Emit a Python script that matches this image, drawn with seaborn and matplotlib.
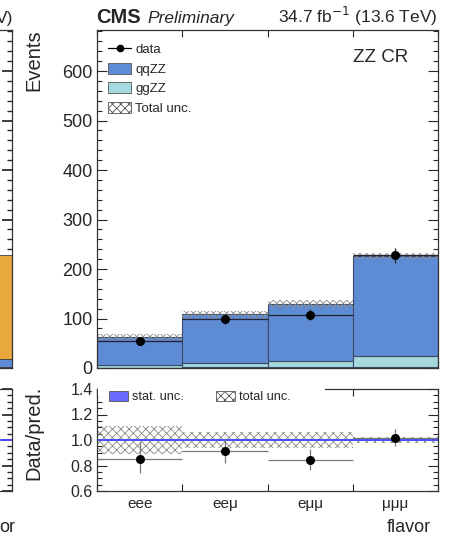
import numpy as np
import pandas as pd
import matplotlib
matplotlib.use("Agg")
import matplotlib.pyplot as plt
import seaborn as sns
from matplotlib.patches import Patch, Rectangle
from matplotlib.lines import Line2D
from matplotlib.ticker import MultipleLocator, FixedLocator

# ---------------- data ----------------
flavors = ["eee", "eeμ", "eμμ", "μμμ"]
qqzz = [57.0, 98.0, 115.0, 201.0]
ggzz = [4.5, 9.0, 12.0, 22.0]
other = [1.0, 1.5, 2.0, 3.0]
data = [54.0, 99.0, 108.0, 228.0]
data_err = [7.4, 10.0, 10.4, 15.1]
tot_unc_rel = [0.11, 0.065, 0.065, 0.024]
stat_unc_rel = [0.004, 0.004, 0.004, 0.004]
ratio = [0.853, 0.914, 0.843, 1.018]
ratio_err_up = [0.134, 0.099, 0.084, 0.066]
ratio_err_dn = [0.110, 0.092, 0.078, 0.065]
# neighbouring panel sliver (left edge)
left_procs = ["orange", "blue", "dark"]
left_vals = [210.0, 15.0, 3.0]

c_qq = "#5e8cd4"
c_gg = "#a6d9dc"
c_oth = "#3a0d1a"
c_or = "#e9a83d"

sns.set_theme(style="ticks")
plt.rcParams["font.family"] = ["Liberation Sans", "DejaVu Sans"]
plt.rcParams["hatch.color"] = "#8a8a8a"
plt.rcParams["hatch.linewidth"] = 0.6

W, H = 457, 538
fig = plt.figure(figsize=(W / 100, H / 100), dpi=100)

def fx(px):
    return px / W

def fy(py):
    return 1 - py / H

L, R = 97, 438
T1, B1 = 30, 368
T2, B2 = 389, 491
ax = fig.add_axes([fx(L), fy(B1), fx(R - L), fy(T1) - fy(B1)])
axr = fig.add_axes([fx(L), fy(B2), fx(R - L), fy(T2) - fy(B2)])

edges = [0, 1, 2, 3, 4]
centers = np.array([0.5, 1.5, 2.5, 3.5])
pred = np.array(qqzz) + np.array(ggzz) + np.array(other)

df = pd.DataFrame({
    "bin": np.tile(centers, 3),
    "w": qqzz + ggzz + other,
    "proc": ["qqZZ"] * 4 + ["ggZZ"] * 4 + ["other"] * 4,
})
sns.histplot(data=df, x="bin", weights="w", hue="proc",
             hue_order=["qqZZ", "ggZZ", "other"], multiple="stack",
             bins=edges, palette={"qqZZ": c_qq, "ggZZ": c_gg, "other": c_oth},
             alpha=1, edgecolor="#3c4a66", linewidth=0.8, legend=False, ax=ax)

unc = pred * np.array(tot_unc_rel)
ax.bar(centers, 2 * unc, bottom=pred - unc, width=1.0, fill=False,
       hatch="xxxxx", edgecolor="#8a8a8a", linewidth=0)

ax.errorbar(centers, data, yerr=data_err, xerr=0.5, fmt="o", color="black",
            ecolor="#222233", elinewidth=0.9, markersize=5.5, capsize=0)

ax.set_xlim(0, 4)
ax.set_ylim(0, 683)
ax.set_xlabel("")
ax.set_ylabel("")
ax.yaxis.set_major_locator(MultipleLocator(100))
ax.yaxis.set_minor_locator(MultipleLocator(20))
ax.xaxis.set_major_locator(FixedLocator(edges))
ax.set_xticklabels([])
ax.tick_params(axis="both", which="both", direction="in", top=True, right=True)
ax.tick_params(axis="y", which="major", length=7, width=0.8, labelsize=13, pad=3)
ax.tick_params(axis="y", which="minor", length=3.5, width=0.8)
ax.tick_params(axis="x", which="major", length=5, width=0.8)
for s in ax.spines.values():
    s.set_linewidth(0.9)
    s.set_color("#333333")

handles = [
    Line2D([0], [0], marker="o", color="black", markersize=4.5, lw=0.9),
    Patch(facecolor=c_qq, edgecolor="#555555", lw=0.6),
    Patch(facecolor=c_gg, edgecolor="#555555", lw=0.6),
    Patch(facecolor="white", edgecolor="#555555", hatch="xxxx", lw=0.6),
]
ax.legend(handles, ["data", "qqZZ", "ggZZ", "Total unc."], loc="upper left",
          bbox_to_anchor=(fx(108), fy(43)), bbox_transform=fig.transFigure,
          frameon=False, fontsize=9.5, handlelength=1.75, handleheight=0.95,
          labelspacing=0.48, handletextpad=0.3, borderaxespad=0, borderpad=0)

fig.text(fx(353), fy(62), "ZZ CR", fontsize=13.5, ha="left", va="baseline")
fig.text(fx(96), fy(23), "CMS", fontsize=14.5, fontweight="bold", ha="left", va="baseline")
fig.text(fx(147), fy(23), "Preliminary", fontsize=12.5, style="italic", ha="left", va="baseline")
fig.text(fx(438), fy(23), "34.7 fb$^{-1}$ (13.6 TeV)", fontsize=12.5, ha="right", va="baseline")
fig.text(fx(34), fy(60), "Events", fontsize=14.5, rotation=90, ha="center", va="center")

# ---------------- ratio panel ----------------
stat = np.array(stat_unc_rel)
axr.bar(centers, 2 * stat, bottom=1 - stat, width=1.0, color="#6a6aff", linewidth=0)
tot = np.array(tot_unc_rel)
axr.bar(centers, 2 * tot, bottom=1 - tot, width=1.0, fill=False,
        hatch="xxxx", edgecolor="#8a8a8a", linewidth=0)
axr.axhline(1.0, color="#4a4aff", lw=1.3)
axr.errorbar(centers, ratio, yerr=[ratio_err_dn, ratio_err_up], xerr=0.5, fmt="o",
             color="black", ecolor="#777777", elinewidth=0.9, markersize=5.5, capsize=0)
axr.set_xlim(0, 4)
axr.set_ylim(0.6, 1.4)
axr.yaxis.set_major_locator(MultipleLocator(0.2))
axr.yaxis.set_minor_locator(MultipleLocator(0.05))
axr.yaxis.set_major_formatter(matplotlib.ticker.FormatStrFormatter("%.1f"))
axr.xaxis.set_major_locator(FixedLocator(edges))
axr.xaxis.set_minor_locator(FixedLocator(centers))
axr.set_xticklabels([], minor=False)
axr.set_xticklabels(flavors, minor=True)
axr.tick_params(axis="both", which="both", direction="in", top=True, right=True)
axr.tick_params(axis="y", which="major", length=7, width=0.8, labelsize=11.5, pad=3)
axr.tick_params(axis="y", which="minor", length=3.5, width=0.8)
axr.tick_params(axis="x", which="major", length=5, width=0.8)
axr.tick_params(axis="x", which="minor", length=0, labelsize=11, pad=4)
for s in axr.spines.values():
    s.set_linewidth(0.9)
    s.set_color("#333333")
# white legend background covering part of the top frame (as in the original)
cover = Rectangle((fx(98), fy(396)), fx(325) - fx(98), fy(386) - fy(396),
                  transform=fig.transFigure, facecolor="white", edgecolor="none",
                  zorder=4.5, clip_on=False)
axr.add_artist(cover)
rh = [Patch(facecolor="#6a6aff", edgecolor="#555555", lw=0.6),
      Patch(facecolor="white", edgecolor="#555555", hatch="xxxx", lw=0.6)]
axr.legend(rh, ["stat. unc.", "total unc."], loc="upper left", ncol=2,
           bbox_to_anchor=(fx(109), fy(391)), bbox_transform=fig.transFigure,
           frameon=False, fontsize=9.2, handlelength=1.5, handleheight=0.8,
           handletextpad=0.3, columnspacing=2.5, borderaxespad=0, borderpad=0)
fig.text(fx(34), fy(433), "Data/pred.", fontsize=14.5, rotation=90, ha="center", va="center")
fig.text(fx(431), fy(532), "flavor", fontsize=13, ha="right", va="baseline")

# ---------------- sliver of neighbouring panel ----------------
axl = fig.add_axes([fx(-300), fy(B1), fx(312), fy(T1) - fy(B1)])
dfl = pd.DataFrame({"bin": [0.5, 0.5, 0.5], "w": left_vals, "proc": left_procs})
sns.histplot(data=dfl, x="bin", weights="w", hue="proc", hue_order=left_procs,
             multiple="stack", bins=[0, 1],
             palette={"orange": c_or, "blue": c_qq, "dark": c_oth},
             alpha=1, edgecolor="#3c3c3c", linewidth=0.6, legend=False, ax=axl)
axl.set_xlim(0, 1)
axl.set_ylim(0, 683)
axl.set_xlabel("")
axl.set_ylabel("")
axl.yaxis.set_major_locator(MultipleLocator(100))
axl.yaxis.set_minor_locator(MultipleLocator(20))
axl.tick_params(axis="both", which="both", direction="in", right=True, labelleft=False,
                labelbottom=False, bottom=False)
axl.tick_params(axis="y", which="major", length=7)
axl.tick_params(axis="y", which="minor", length=3.5)
axlr = fig.add_axes([fx(-300), fy(B2), fx(312), fy(T2) - fy(B2)])
axlr.axhline(1.0, color="#4a4aff", lw=1.3)
axlr.set_xlim(0, 1)
axlr.set_ylim(0.6, 1.4)
axlr.yaxis.set_major_locator(MultipleLocator(0.2))
axlr.yaxis.set_minor_locator(MultipleLocator(0.05))
axlr.tick_params(axis="both", which="both", direction="in", right=True, labelleft=False,
                 labelbottom=False, bottom=False)
axlr.tick_params(axis="y", which="major", length=7)
axlr.tick_params(axis="y", which="minor", length=3.5)
for a in (axl, axlr):
    for s in a.spines.values():
        s.set_linewidth(0.9)
        s.set_color("#333333")
fig.text(fx(13), fy(23), "V)", fontsize=12.5, ha="right", va="baseline")
fig.text(fx(15), fy(532), "or", fontsize=13, ha="right", va="baseline")

fig.savefig("out.png", dpi=100)
